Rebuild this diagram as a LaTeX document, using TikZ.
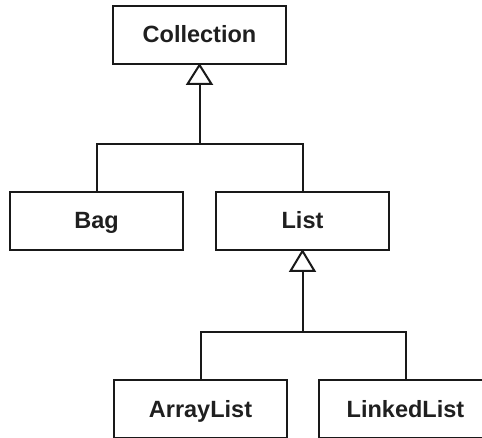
\documentclass[tikz,border=0pt]{standalone}
\usepackage{fontspec}
\setmainfont{Liberation Sans}
\begin{document}
\begin{tikzpicture}[x=1pt,y=-1pt,
  cls/.style={draw=black!90, line width=2pt, minimum width=173pt, minimum height=58pt, inner sep=0pt,
    text height=17pt, text depth=1pt,
    font=\fontsize{23.5}{28}\selectfont\bfseries, text=black!88},
  link/.style={draw=black!90, line width=2pt},
  tri/.style={draw=black!90, line width=2pt, fill=white, line join=miter}]
\useasboundingbox (0,0) rectangle (482,438);
\clip (0,0) rectangle (482,438);
\node[cls] (coll) at (199.5,35) {Collection};
\node[cls] (bag) at (96.5,221) {Bag};
\node[cls] (list) at (302.5,221) {List};
\node[cls] (al) at (200.5,409) {ArrayList};
\node[cls] (ll) at (405.5,409) {LinkedList};
\coordinate (j1) at (199.5,144);
\coordinate (j2) at (302.5,332);
\draw[link] (bag.north) -- (bag.north |- j1) -- (list.north |- j1) -- (list.north);
\draw[link] (j1) -- ([yshift=-19pt]coll.south);
\draw[tri] (coll.south) -- ++(-12,19) -- ++(24,0) -- cycle;
\draw[link] (al.north) -- (al.north |- j2) -- (ll.north |- j2) -- (ll.north);
\draw[link] (j2) -- ([yshift=-20pt]list.south);
\draw[tri] (list.south) -- ++(-12,20) -- ++(24,0) -- cycle;
\end{tikzpicture}
\end{document}
